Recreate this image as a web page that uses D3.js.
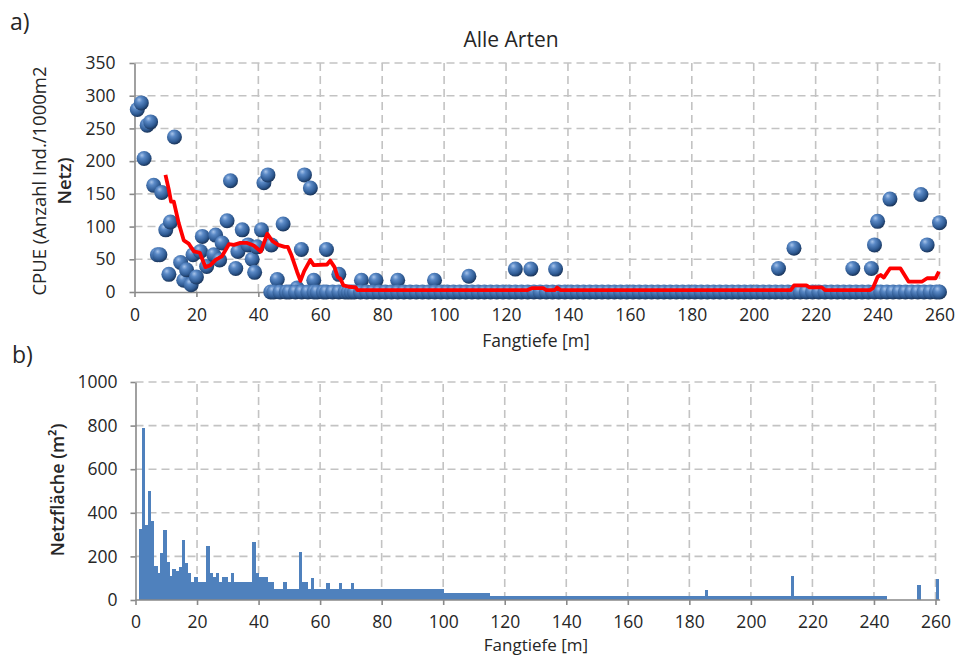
<!DOCTYPE html>
<html>
<head>
<meta charset="utf-8">
<script src="https://cdn.jsdelivr.net/npm/d3@7"></script>
<style>
  html, body { margin: 0; padding: 0; background: #fff; }
  svg { display: block; }
  text { font-family: "Open Sans", "Noto Sans", sans-serif; fill: #262626; }
</style>
</head>
<body>
<svg id="chart" width="962" height="657"></svg>
<script>
// ---- Panel a) CPUE by fishing depth ----
const cpueDepth = [
  0.9, 2.2, 3.1, 4.1, 5.2, 6.2, 7.4, 8.2, 8.8, 10.1, 11.1, 11.6, 12.9, 14.9, 15.9, 16.8,
  18.3, 18.9, 20, 21.3, 21.9, 23.3, 25.6, 26.2, 27.5, 28.3, 29.9, 31, 32.7, 33.4, 34.8,
  36.7, 38, 38.8, 39.6, 41, 41.8, 43.1, 44.2, 46.1, 48, 52.5, 53.9, 54.9, 56.8, 57.9,
  62, 66, 73.3, 78, 85, 96.9, 108, 123, 128, 136, 208, 213, 232, 238, 239, 240, 244,
  254, 256, 260
];
const cpueValue = [
  279, 289, 204, 255, 260, 163, 57, 57, 152, 95, 27, 107, 237, 45, 18, 34,
  11, 57, 23, 62, 85, 39, 57, 87, 49, 75, 109, 170, 36, 62, 95,
  72, 50, 30, 69, 95, 167, 179, 72, 19, 104, 6, 65, 179, 159, 18,
  65, 27, 18, 18, 18, 18, 24, 35, 35, 35, 36, 67, 36, 36, 72, 108, 142,
  149, 72, 106
];
// Depths where the catch per unit effort was zero
const zeroDepth = [
  44, 45, 47, 49, 50, 52, 54, 56, 58, 59, 61, 62, 64, 66, 68, 69, 70,
  71, 73, 75, 77, 79, 81, 83, 85, 87, 89, 91, 93, 95, 97, 99,
  101, 103, 105, 107, 109, 111, 113, 115, 117, 119, 121, 123, 125, 127, 129,
  131, 133, 135, 137, 139, 141, 143, 145, 147, 149, 151, 153, 155, 157, 159,
  161, 163, 165, 167, 169, 171, 173, 175, 177, 179, 181, 183, 185, 187, 189,
  191, 193, 195, 197, 199, 201, 203, 205, 207, 209, 211, 213, 215, 217, 219,
  221, 223, 225, 227, 229, 231, 233, 235, 237, 239, 241, 243, 245, 247, 249,
  251, 253, 255, 257, 259, 260
];
// Running mean of CPUE
const meanDepth = [
  10, 11.1, 11.8, 12.7, 14.3, 15.9, 17.5, 19.2, 21.1, 22.9, 24.5, 26.2, 28.3, 30.5,
  32.1, 34.2, 36.4, 38.5, 40.8, 42.9, 44.5, 46.4, 48.5, 49.5, 50.7, 52.5, 53.6, 54.8,
  56.8, 57.9, 62.2, 63.2, 64.6, 65.6, 66.5, 67.5, 69.2, 71.4, 72, 127, 128.5, 132,
  133, 135.8, 136.5, 137.5, 212, 213, 217, 218, 222, 223, 237.5, 238.5, 240, 241,
  242, 244, 247.4, 250, 254.4, 256, 258.7, 259.8
];
const meanCpue = [
  179, 156, 138, 138, 105, 79, 74, 62, 60, 38, 41, 49, 55, 73,
  72, 75, 75, 71, 62, 89, 78, 72, 69, 69, 56, 31, 17, 32,
  49, 41, 42, 48, 38, 23, 20, 10, 8, 7, 3, 3, 6, 6,
  3, 3, 7, 3, 3, 10, 10, 7, 7, 3, 3, 6, 23, 26,
  22, 36, 36, 16, 16, 21, 21, 31
];
const cpueTicks = [0, 50, 100, 150, 200, 250, 300, 350];
const depthTicks = [0, 20, 40, 60, 80, 100, 120, 140, 160, 180, 200, 220, 240, 260];

// ---- Panel b) net area per 1 m depth class (index = depth in m) ----
const netArea = [
  0,
  325, 790, 342, 498, 363, 157, 123, 215, 322, 175,   // 1-10
  110, 142, 133, 153, 273, 172, 123, 81, 104, 81,     // 11-20
  81, 81, 248, 123, 104, 123, 81, 104, 104, 81,       // 21-30
  123, 81, 81, 81, 81, 81, 81, 268, 123, 104,         // 31-40
  104, 104, 81, 81, 49, 49, 49, 81, 49, 49,           // 41-50
  49, 49, 222, 81, 81, 49, 100, 49, 49, 49,           // 51-60
  49, 77, 49, 49, 49, 77, 49, 49, 49, 77,             // 61-70
  49, 49, 49, 49, 49, 49, 49, 49, 49, 49,             // 71-80
  49, 49, 49, 49, 49, 49, 49, 49, 49, 49,             // 81-90
  49, 49, 49, 49, 49, 49, 49, 49, 49, 34,             // 91-100
  34, 34, 34, 34, 34, 34, 34, 34, 34, 34,             // 101-110
  34, 34, 34, 34, 18, 18, 18, 18, 18, 18,             // 111-120
  18, 18, 18, 18, 18, 18, 18, 18, 18, 18,             // 121-130
  18, 18, 18, 18, 18, 18, 18, 18, 18, 18,             // 131-140
  18, 18, 18, 18, 18, 18, 18, 18, 18, 18,             // 141-150
  18, 18, 18, 18, 18, 18, 18, 18, 18, 18,             // 151-160
  18, 18, 18, 18, 18, 18, 18, 18, 18, 18,             // 161-170
  18, 18, 18, 18, 18, 18, 18, 18, 18, 18,             // 171-180
  18, 18, 18, 18, 46, 18, 18, 18, 18, 18,             // 181-190
  18, 18, 18, 18, 18, 18, 18, 18, 18, 18,             // 191-200
  18, 18, 18, 18, 18, 18, 18, 18, 18, 18,             // 201-210
  18, 18, 112, 18, 18, 18, 18, 18, 18, 18,            // 211-220
  18, 18, 18, 18, 18, 18, 18, 18, 18, 18,             // 221-230
  18, 18, 18, 18, 18, 18, 18, 18, 18, 18,             // 231-240
  18, 18, 18, 0, 0, 0, 0, 0, 0, 0,                    // 241-250
  0, 0, 0, 69, 0, 0, 0, 0, 0, 97                      // 251-260
];
const areaTicks = [0, 200, 400, 600, 800, 1000];

const svg = d3.select("#chart");
const gridColor = "#c3c3c3";
const axisColor = "#898989";
const tickFont = 17.5;

// Scales
const xA = d3.scaleLinear().domain([0, 260]).range([134.5, 939.5]);
const yA = d3.scaleLinear().domain([0, 350]).range([292, 63]);
const xB = d3.scaleLinear().domain([0, 260]).range([135.5, 935.5]);
const yB = d3.scaleLinear().domain([0, 1000]).range([600, 382]);

// Sphere shading for the CPUE markers
const defs = svg.append("defs");
const grad = defs.append("radialGradient").attr("id", "ball")
  .attr("cx", "40%").attr("cy", "35%").attr("r", "65%")
  .attr("fx", "35%").attr("fy", "28%");
grad.append("stop").attr("offset", "0%").attr("stop-color", "#a8c4ea");
grad.append("stop").attr("offset", "30%").attr("stop-color", "#5a89c6");
grad.append("stop").attr("offset", "75%").attr("stop-color", "#2f5b94");
grad.append("stop").attr("offset", "100%").attr("stop-color", "#1a355b");

function grid(g, x, y, xt, yt) {
  g.selectAll("line.v").data(xt.filter(d => d > 0)).join("line")
    .attr("x1", d => x(d)).attr("x2", d => x(d))
    .attr("y1", y.range()[0]).attr("y2", y.range()[1]);
  g.selectAll("line.h").data(yt.filter(d => d > 0)).join("line").attr("class", "h")
    .attr("x1", x.range()[0]).attr("x2", x.range()[1])
    .attr("y1", d => y(d)).attr("y2", d => y(d));
  g.selectAll("line").attr("stroke", gridColor).attr("stroke-width", 1.6)
    .attr("stroke-dasharray", "8,5");
}

function styleAxis(g) {
  g.selectAll(".domain").attr("stroke", axisColor).attr("stroke-width", 1.6);
  g.selectAll(".tick line").attr("stroke", axisColor).attr("stroke-width", 1.6);
  g.selectAll(".tick text").attr("font-size", tickFont).attr("fill", "#262626")
    .attr("font-family", "Open Sans");
}

const fmt = d3.format("d");

// ----- Panel a -----
const gA = svg.append("g");
grid(gA.append("g"), xA, yA, depthTicks, cpueTicks);

gA.append("g").attr("transform", `translate(0,${yA(0)})`)
  .call(d3.axisBottom(xA).tickValues(depthTicks).tickFormat(fmt).tickSize(5).tickSizeOuter(0).tickPadding(12))
  .call(styleAxis);
gA.append("g").attr("transform", `translate(${xA(0)},0)`)
  .call(d3.axisLeft(yA).tickValues(cpueTicks).tickFormat(fmt).tickSize(5).tickSizeOuter(0).tickPadding(14))
  .call(styleAxis);

const pts = cpueDepth.map((d, i) => ({ d, v: cpueValue[i] }))
  .concat(zeroDepth.map(d => ({ d, v: 0 })));
gA.append("g").selectAll("circle").data(pts).join("circle")
  .attr("cx", p => xA(p.d)).attr("cy", p => yA(p.v)).attr("r", 7.5)
  .attr("fill", "url(#ball)");

const meanLine = d3.line().x(d => xA(d)).y((d, i) => yA(meanCpue[i]));
gA.append("path").attr("d", meanLine(meanDepth))
  .attr("fill", "none").attr("stroke", "#ff0000").attr("stroke-width", 3.8)
  .attr("stroke-linejoin", "round");

gA.append("text").attr("x", 511).attr("y", 47).attr("text-anchor", "middle")
  .attr("font-size", 21).text("Alle Arten");
gA.append("text").attr("x", 536).attr("y", 347).attr("text-anchor", "middle")
  .attr("font-size", 17.5).text("Fangtiefe [m]");
const yl = gA.append("text").attr("transform", "rotate(-90)")
  .attr("text-anchor", "middle").attr("font-size", 18.5);
yl.append("tspan").attr("x", -181).attr("y", 46).text("CPUE (Anzahl Ind./1000m2");
yl.append("tspan").attr("x", -181).attr("y", 71).attr("font-weight", 600).text("Netz)");
svg.append("text").attr("x", 10).attr("y", 30).attr("font-size", 23).text("a)");

// ----- Panel b -----
const gB = svg.append("g");
grid(gB.append("g"), xB, yB, depthTicks, areaTicks);

gB.append("g").attr("shape-rendering", "crispEdges")
  .selectAll("rect").data(netArea.map((v, d) => ({ d, v })).filter(p => p.v > 0))
  .join("rect")
  .attr("x", p => xB(p.d)).attr("width", p => xB(p.d + 1) - xB(p.d) + 0.5)
  .attr("y", p => yB(p.v)).attr("height", p => yB(0) - yB(p.v))
  .attr("fill", "#4f81bd");

gB.append("g").attr("transform", `translate(0,${yB(0)})`)
  .call(d3.axisBottom(xB).tickValues(depthTicks).tickFormat(fmt).tickSize(5).tickSizeOuter(0).tickPadding(11))
  .call(g => g.select(".domain").attr("d", `M${xB.range()[0]},0H${xB(261.5)}`))
  .call(styleAxis);
gB.append("g").attr("transform", `translate(${xB(0)},0)`)
  .call(d3.axisLeft(yB).tickValues(areaTicks).tickFormat(fmt).tickSize(5).tickSizeOuter(0).tickPadding(13))
  .call(styleAxis);

gB.append("text").attr("x", 536).attr("y", 651).attr("text-anchor", "middle")
  .attr("font-size", 17).text("Fangtiefe [m]");
gB.append("text").attr("transform", "translate(64,490) rotate(-90)")
  .attr("text-anchor", "middle").attr("font-size", 18).attr("font-weight", 600)
  .text("Netzfläche (m²)");
svg.append("text").attr("x", 12).attr("y", 363).attr("font-size", 23).text("b)");
</script>
</body>
</html>
